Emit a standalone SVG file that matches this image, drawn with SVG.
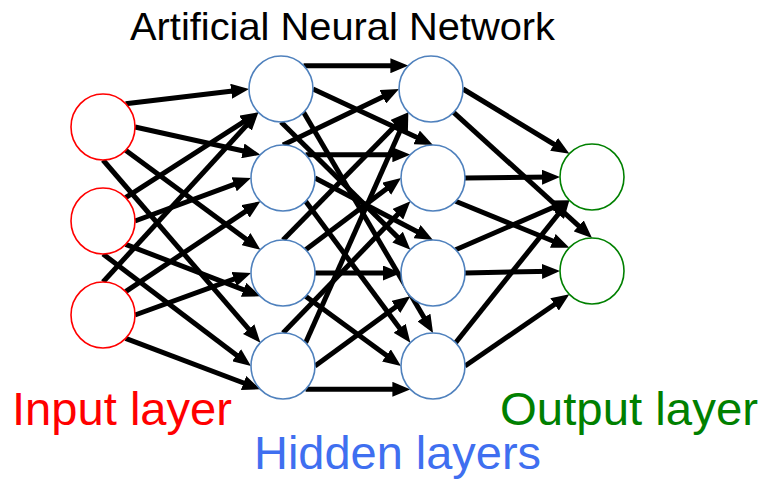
<svg xmlns="http://www.w3.org/2000/svg" width="763" height="480" viewBox="0 0 763 480">
<style>
.node{fill:#ffffff;stroke-width:1.6}
.in{stroke:#ff0000}
.hid{stroke:#4f81bd}
.out{stroke:#008000}
.e{stroke:#000;stroke-width:5;fill:none;marker-end:url(#ah)}
text{font-family:"Liberation Sans",Arial,sans-serif}
</style>
<defs>
<marker id="ah" markerUnits="userSpaceOnUse" markerWidth="18" markerHeight="15" refX="10" refY="7.5" orient="auto" viewBox="0 0 18 15">
<path d="M0,0 L18,7.5 L0,15 z" fill="#000"/>
</marker>
</defs>
<rect width="763" height="480" fill="#ffffff"/>
<text x="130" y="40" font-size="39" textLength="425" lengthAdjust="spacingAndGlyphs" fill="#000">Artificial Neural Network</text>
<g id="connectors">
<line class="e" x1="125.6" y1="103.7" x2="241.1" y2="90.0"/>
<line class="e" x1="135" y1="127" x2="252.6" y2="153.0"/>
<line class="e" x1="125.6" y1="150.3" x2="254.0" y2="245.0"/>
<line class="e" x1="103" y1="160" x2="255.2" y2="336.6"/>
<line class="e" x1="125.6" y1="197.7" x2="251.7" y2="116.6"/>
<line class="e" x1="135" y1="221" x2="243.5" y2="180.8"/>
<line class="e" x1="125.6" y1="244.3" x2="252.9" y2="293.4"/>
<line class="e" x1="103" y1="254" x2="244.6" y2="361.2"/>
<line class="e" x1="103" y1="282" x2="253.0" y2="118.2"/>
<line class="e" x1="125.6" y1="291.7" x2="253.8" y2="205.8"/>
<line class="e" x1="135" y1="315" x2="243.5" y2="275.7"/>
<line class="e" x1="125.6" y1="338.3" x2="252.9" y2="386.5"/>
<line class="e" x1="303.6" y1="65.7" x2="400.4" y2="65.7"/>
<line class="e" x1="313" y1="89" x2="425.7" y2="141.6"/>
<line class="e" x1="281" y1="122" x2="404.7" y2="244.1"/>
<line class="e" x1="303.6" y1="112.3" x2="429.0" y2="326.1"/>
<line class="e" x1="283" y1="145" x2="391.8" y2="92.5"/>
<line class="e" x1="305.6" y1="154.7" x2="402.4" y2="154.7"/>
<line class="e" x1="315" y1="178" x2="425.9" y2="236.3"/>
<line class="e" x1="305.6" y1="201.3" x2="405.6" y2="336.3"/>
<line class="e" x1="283" y1="240" x2="402.8" y2="118.0"/>
<line class="e" x1="305.6" y1="249.7" x2="394.6" y2="182.8"/>
<line class="e" x1="315" y1="273" x2="393" y2="273"/>
<line class="e" x1="305.6" y1="296.3" x2="394.5" y2="361.3"/>
<line class="e" x1="283" y1="333" x2="404.8" y2="207.1"/>
<line class="e" x1="305.6" y1="342.7" x2="405.1" y2="119.6"/>
<line class="e" x1="315" y1="366" x2="403.9" y2="301.0"/>
<line class="e" x1="305.6" y1="389.3" x2="402.4" y2="389.3"/>
<line class="e" x1="463" y1="89" x2="562.6" y2="149.5"/>
<line class="e" x1="453.6" y1="112.3" x2="586.1" y2="232.6"/>
<line class="e" x1="465" y1="178" x2="552" y2="177.1"/>
<line class="e" x1="455.6" y1="201.3" x2="562.0" y2="244.7"/>
<line class="e" x1="455.6" y1="249.7" x2="562.1" y2="203.5"/>
<line class="e" x1="465" y1="273" x2="552" y2="271.2"/>
<line class="e" x1="455.6" y1="342.7" x2="564.4" y2="206.5"/>
<line class="e" x1="465" y1="366" x2="562.8" y2="298.8"/>
</g>
<g id="i1"><ellipse class="node in" cx="103" cy="127" rx="32" ry="33"/></g>
<g id="i2"><ellipse class="node in" cx="103" cy="221" rx="32" ry="33"/></g>
<g id="i3"><ellipse class="node in" cx="103" cy="315" rx="32" ry="33"/></g>
<g id="h1a"><ellipse class="node hid" cx="281" cy="89" rx="32" ry="33"/></g>
<g id="h1b"><ellipse class="node hid" cx="283" cy="178" rx="32" ry="33"/></g>
<g id="h1c"><ellipse class="node hid" cx="283" cy="273" rx="32" ry="33"/></g>
<g id="h1d"><ellipse class="node hid" cx="283" cy="366" rx="32" ry="33"/></g>
<g id="h2a"><ellipse class="node hid" cx="431" cy="89" rx="32" ry="33"/></g>
<g id="h2b"><ellipse class="node hid" cx="433" cy="178" rx="32" ry="33"/></g>
<g id="h2c"><ellipse class="node hid" cx="433" cy="273" rx="32" ry="33"/></g>
<g id="h2d"><ellipse class="node hid" cx="433" cy="366" rx="32" ry="33"/></g>
<g id="oa"><ellipse class="node out" cx="592" cy="177" rx="32" ry="33"/></g>
<g id="ob"><ellipse class="node out" cx="592" cy="271" rx="32" ry="33"/></g>
<text x="12" y="425" font-size="46" textLength="220" lengthAdjust="spacingAndGlyphs" fill="#ff0000">Input layer</text>
<text x="254" y="469" font-size="46" textLength="287" lengthAdjust="spacingAndGlyphs" fill="#3f6ff0">Hidden layers</text>
<text x="500" y="425" font-size="46" textLength="258" lengthAdjust="spacingAndGlyphs" fill="#008000">Output layer</text>
</svg>
